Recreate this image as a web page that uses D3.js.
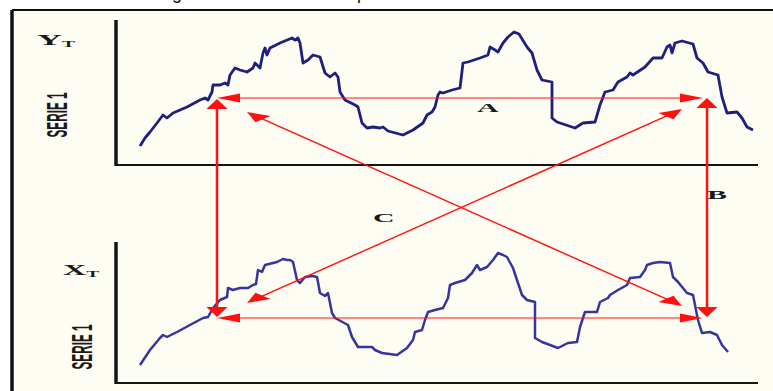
<!DOCTYPE html>
<html>
<head>
<meta charset="utf-8">
<script src="https://cdn.jsdelivr.net/npm/d3@7"></script>
<style>
  body { margin: 0; background: #fff; }
  svg { display: block; }
</style>
</head>
<body>
<div id="chart"></div>
<script>
// series Y_T (top panel) : [time, value]
var serieY = [[24,19],[29,27],[34,33],[41,42],[47,50],[51,47],[57,52],[71,58],[84,65],[89,67],[92,65],[96,73],[97,80],[104,80],[109,82],[112,80],[114,90],[119,97],[124,95],[131,93],[137,97],[139,102],[144,97],[147,112],[149,117],[151,110],[154,117],[164,122],[176,127],[179,125],[182,127],[184,122],[187,102],[192,105],[197,110],[204,108],[209,92],[214,88],[219,92],[222,88],[224,73],[229,65],[239,60],[242,58],[246,42],[251,37],[257,38],[264,37],[267,38],[272,34],[287,30],[297,35],[307,42],[311,50],[316,53],[319,58],[322,70],[324,73],[327,72],[336,75],[344,77],[347,102],[352,103],[364,107],[372,110],[374,118],[379,115],[382,113],[387,122],[392,128],[398,133],[403,131],[411,118],[416,112],[421,95],[426,85],[436,83],[436,47],[441,43],[459,37],[467,42],[479,43],[484,60],[489,73],[497,75],[502,83],[511,88],[514,92],[517,90],[529,98],[537,107],[546,107],[551,118],[554,120],[556,112],[559,122],[566,124],[577,121],[581,107],[587,102],[592,93],[602,90],[606,68],[611,52],[621,53],[626,47],[631,38],[637,35]];

// series X_T (bottom panel) : [time, value]
var serieX = [[24,18],[34,33],[44,45],[47,48],[51,46],[61,51],[74,58],[87,65],[92,66],[97,75],[104,83],[111,86],[112,95],[117,93],[124,95],[132,95],[137,98],[140,99],[142,113],[146,111],[149,118],[161,121],[167,124],[171,123],[174,123],[177,121],[181,103],[184,100],[189,106],[196,107],[201,106],[204,90],[209,87],[212,90],[216,70],[219,65],[232,58],[236,46],[242,36],[249,36],[256,36],[259,33],[266,30],[281,28],[291,35],[297,43],[299,51],[306,53],[309,63],[312,71],[319,73],[327,75],[332,85],[334,98],[339,100],[349,103],[356,110],[361,118],[364,113],[371,116],[377,123],[382,130],[387,128],[391,126],[397,115],[406,88],[411,83],[419,81],[419,45],[426,41],[442,35],[452,40],[461,41],[464,56],[469,71],[481,71],[484,81],[492,85],[494,88],[502,93],[511,98],[514,105],[524,106],[529,113],[531,118],[537,120],[544,121],[554,120],[557,106],[562,101],[571,90],[577,88],[582,63],[586,50],[594,51],[601,48],[606,38],[612,31]];

// arrows : [time, panel, value] -> [time, panel, value]
var arrows = [
  [[101,"Y",67],[587,"Y",67]],
  [[101,"X",65],[587,"X",65]],
  [[101,"Y",66],[101,"X",66]],
  [[591,"Y",67],[591,"X",66]],
  [[131,"Y",53],[566,"X",77]],
  [[131,"X",80],[566,"Y",56]]
];

// letters on the arrows
var letters = [
  {t: "A", time: 361, panel: "Y", value: 53},
  {t: "B", time: 591, panel: "X", value: 184},
  {t: "C", time: 257, panel: "X", value: 161}
];

var W = 773, H = 391;
var S = 2.3; // horizontal stretch of the scanned figure

var svg = d3.select("#chart").append("svg")
  .attr("width", W)
  .attr("height", H);

// page background + frame
svg.append("rect").attr("x", 0).attr("y", 0).attr("width", W).attr("height", H).attr("fill", "#fff");
svg.append("rect").attr("x", 12).attr("y", 10).attr("width", W - 12).attr("height", H - 10).attr("fill", "#fefdf3");
svg.append("line").attr("x1", 12).attr("x2", W).attr("y1", 10).attr("y2", 10)
  .attr("stroke", "#111").attr("stroke-width", 2);
svg.append("line").attr("x1", 12).attr("x2", 12).attr("y1", 10).attr("y2", H)
  .attr("stroke", "#111").attr("stroke-width", 3.5);

// bits of the caption above, cut by the crop (as in the scan)
svg.append("text").attr("x", 172).attr("y", -1).attr("font-family", "Liberation Sans, Arial")
  .attr("font-size", 18).attr("fill", "#111").text("g");
svg.append("text").attr("x", 357).attr("y", -1).attr("font-family", "Liberation Sans, Arial")
  .attr("font-size", 18).attr("fill", "#111").text("p");

var x = d3.scaleLinear().domain([0, 642]).range([116, 758]);
var yTop = d3.scaleLinear().domain([0, 145]).range([165, 20]);
var yBot = d3.scaleLinear().domain([0, 141]).range([383, 242]);
var yOf = function(panel) { return panel == "Y" ? yTop : yBot; };

// axes (plain lines, no ticks)
[yTop, yBot].forEach(function(y) {
  svg.append("line")
    .attr("x1", x(0)).attr("x2", x(0))
    .attr("y1", y.range()[1]).attr("y2", y(0) + 1)
    .attr("stroke", "#151515").attr("stroke-width", 3.5);
  svg.append("line")
    .attr("x1", x(0)).attr("x2", x.range()[1])
    .attr("y1", y(0)).attr("y2", y(0))
    .attr("stroke", "#151515").attr("stroke-width", 2.2);
});

// curves
var line = function(y) {
  return d3.line().x(function(d) { return x(d[0]); }).y(function(d) { return y(d[1]); });
};
svg.append("path").datum(serieY).attr("d", line(yTop))
  .attr("fill", "none").attr("stroke", "#1e1f7e").attr("stroke-width", 2.8)
  .attr("stroke-linejoin", "round");
svg.append("path").datum(serieX).attr("d", line(yBot))
  .attr("fill", "none").attr("stroke", "#3535a0").attr("stroke-width", 2.5)
  .attr("stroke-linejoin", "round");

// arrows, drawn in the un-stretched space then stretched on x
var ga = svg.append("g").attr("transform", "scale(" + S + ",1)");
var L = 10, hw = 4.6;
var head = function(tip, d) {
  var bx = tip[0] - d[0] * L, by = tip[1] - d[1] * L;
  var nx = -d[1] * hw, ny = d[0] * hw;
  return [[tip[0], tip[1]], [bx + nx, by + ny], [bx - nx, by - ny]];
};
arrows.forEach(function(a) {
  var p0 = [x(a[0][0]) / S, yOf(a[0][1])(a[0][2])];
  var p1 = [x(a[1][0]) / S, yOf(a[1][1])(a[1][2])];
  var dx = p1[0] - p0[0], dy = p1[1] - p0[1];
  var len = Math.sqrt(dx * dx + dy * dy);
  var d = [dx / len, dy / len];
  ga.append("line")
    .attr("x1", p0[0] + d[0] * 6).attr("y1", p0[1] + d[1] * 6)
    .attr("x2", p1[0] - d[0] * 6).attr("y2", p1[1] - d[1] * 6)
    .attr("stroke", "#ff1414").attr("stroke-width", 1.1);
  [head(p1, d), head(p0, [-d[0], -d[1]])].forEach(function(pts) {
    ga.append("polygon")
      .attr("points", pts.map(function(p) { return p.join(","); }).join(" "))
      .attr("fill", "#ff1010");
  });
});

// letters
letters.forEach(function(l) {
  svg.append("text")
    .attr("transform", "translate(" + x(l.time) + "," + yOf(l.panel)(l.value) + ") scale(" + S + ",1)")
    .attr("font-family", "Liberation Serif, Times New Roman, serif")
    .attr("font-weight", "bold").attr("font-size", 13).attr("fill", "#1a1a1a")
    .text(l.t);
});

// panel labels
var seriesLab = [
  {name: "Y", lx: 37, ly: 45, size: 15, sx: 67, sy: 115},
  {name: "X", lx: 63, ly: 275, size: 14, sx: 92, sy: 347}
];
seriesLab.forEach(function(s) {
  var t = svg.append("text")
    .attr("transform", "translate(" + s.lx + "," + s.ly + ") scale(" + S + ",1)")
    .attr("font-family", "Liberation Serif, Times New Roman, serif")
    .attr("font-weight", "bold").attr("font-size", s.size).attr("fill", "#1a1a1a");
  t.append("tspan").text(s.name);
  t.append("tspan").attr("font-size", 8.5).attr("dy", 2).text("T");

  svg.append("text")
    .attr("transform", "translate(" + s.sx + "," + s.sy + ") scale(" + S + ",1) rotate(-90)")
    .attr("text-anchor", "middle")
    .attr("font-family", "Liberation Sans, Arial, sans-serif")
    .attr("font-weight", "bold").attr("font-size", 12.5).attr("fill", "#1a1a1a")
    .attr("textLength", 45).attr("lengthAdjust", "spacingAndGlyphs")
    .text("SERIE 1");
});
</script>
</body>
</html>
